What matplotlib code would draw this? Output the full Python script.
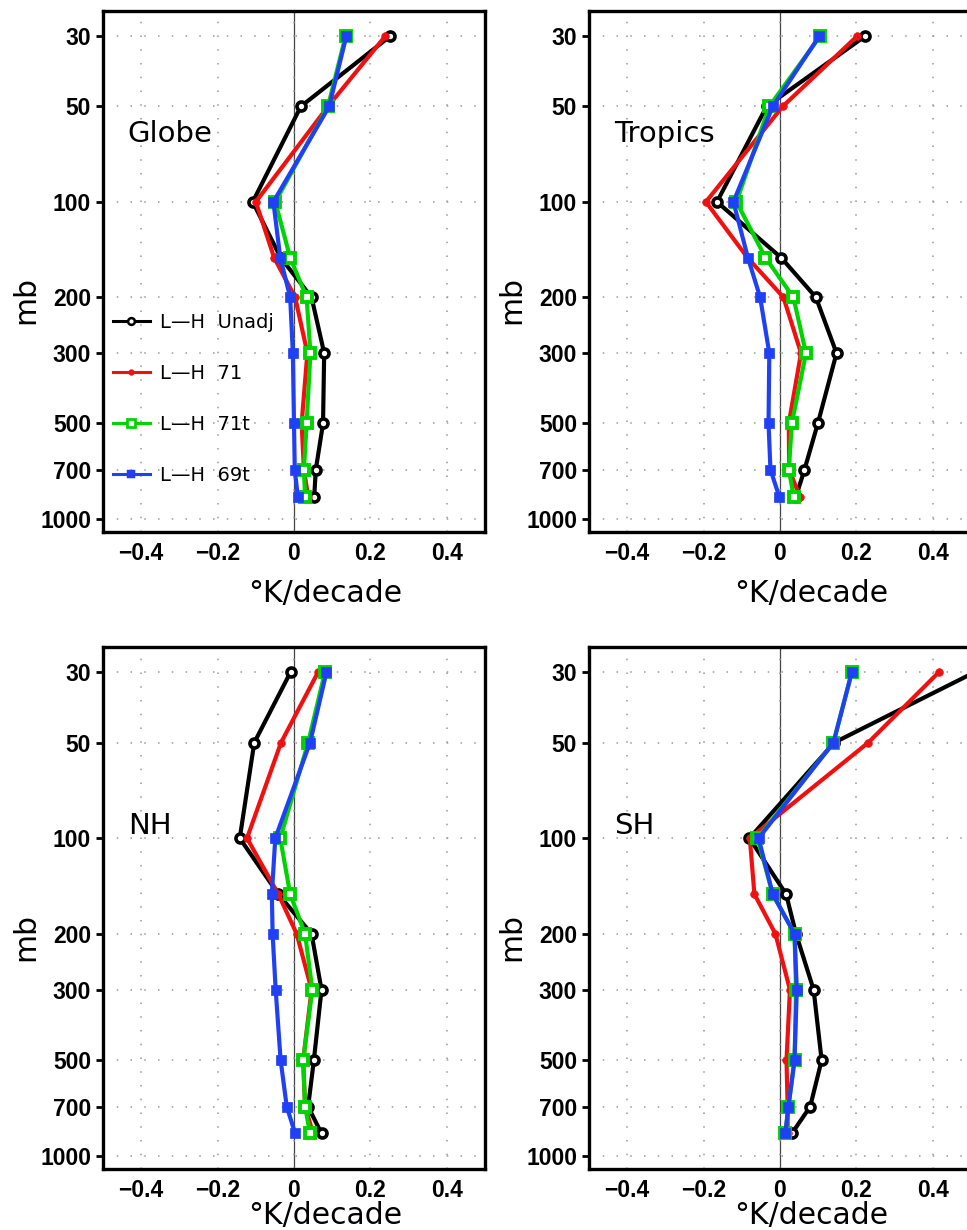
import matplotlib
matplotlib.use("Agg")
import matplotlib.pyplot as plt
from matplotlib.lines import Line2D
from matplotlib.ticker import FixedLocator, NullLocator

# Pressure levels (mb)
pressure = [30, 50, 100, 150, 200, 300, 500, 700, 850]

# Temperature trends (K/decade) per region and dataset
globe_unadj = [0.252, 0.018, -0.108, -0.035, 0.046, 0.079, 0.076, 0.057, 0.053]
globe_71 = [0.239, 0.089, -0.100, -0.052, 0.003, 0.035, 0.020, 0.026, 0.037]
globe_71t = [0.135, 0.089, -0.049, -0.010, 0.033, 0.043, 0.033, 0.026, 0.029]
globe_69t = [0.137, 0.092, -0.054, -0.036, -0.010, -0.003, 0.000, 0.002, 0.010]

trop_unadj = [0.223, -0.035, -0.165, 0.003, 0.094, 0.148, 0.099, 0.064, 0.042]
trop_71 = [0.202, 0.007, -0.194, -0.085, 0.009, 0.055, 0.023, 0.024, 0.052]
trop_71t = [0.105, -0.028, -0.114, -0.038, 0.035, 0.068, 0.031, 0.023, 0.036]
trop_69t = [0.103, -0.019, -0.122, -0.084, -0.052, -0.028, -0.030, -0.025, -0.002]

nh_unadj = [-0.009, -0.104, -0.142, -0.041, 0.046, 0.072, 0.052, 0.037, 0.072]
nh_71 = [0.063, -0.034, -0.123, -0.041, 0.007, 0.046, 0.024, 0.029, 0.050]
nh_71t = [0.081, 0.037, -0.036, -0.010, 0.029, 0.048, 0.024, 0.029, 0.042]
nh_69t = [0.085, 0.042, -0.049, -0.058, -0.056, -0.048, -0.035, -0.019, 0.003]

sh_unadj = [0.510, 0.142, -0.080, 0.016, 0.042, 0.088, 0.109, 0.079, 0.031]
sh_71 = [0.416, 0.231, -0.079, -0.067, -0.012, 0.026, 0.017, 0.020, 0.020]
sh_71t = [0.188, 0.140, -0.059, -0.019, 0.038, 0.042, 0.038, 0.022, 0.014]
sh_69t = [0.188, 0.140, -0.056, -0.019, 0.038, 0.044, 0.038, 0.022, 0.014]

region_names = ["Globe", "Tropics", "NH", "SH"]
series_labels = ["L\u2014H  Unadj", "L\u2014H  71", "L\u2014H  71t", "L\u2014H  69t"]

x_ticks = [-0.4, -0.2, 0, 0.2, 0.4]
x_ticklabels = ["\u22120.4", "\u22120.2", "0", "0.2", "0.4"]
y_ticks = [30, 50, 100, 200, 300, 500, 700, 1000]
y_ticklabels = ["30", "50", "100", "200", "300", "500", "700", "1000"]

regions = [
    [globe_unadj, globe_71, globe_71t, globe_69t],
    [trop_unadj, trop_71, trop_71t, trop_69t],
    [nh_unadj, nh_71, nh_71t, nh_69t],
    [sh_unadj, sh_71, sh_71t, sh_69t],
]

RED = "#f01010"
GREEN = "#00d400"
BLUE = "#2040f5"

styles = [
    dict(color="black", marker="o", ms=6.5, mfc="white", mec="black", mew=2.6),
    dict(color=RED, marker="o", ms=5.5, mfc=RED, mec=RED, mew=0.5),
    dict(color=GREEN, marker="s", ms=7.0, mfc="white", mec=GREEN, mew=2.8),
    dict(color=BLUE, marker="s", ms=7.5, mfc=BLUE, mec=BLUE, mew=0.5),
]

TICK_FONT = dict(family="Liberation Sans", weight="bold", size=16.5)
LABEL_FONT = dict(family="DejaVu Sans", size=21.5)

fig = plt.figure(figsize=(9.67, 12.3), dpi=100)

w = 382 / 967
positions = [
    (103 / 967, (1230 - 532) / 1230, w, 521 / 1230),
    (589 / 967, (1230 - 532) / 1230, w, 521 / 1230),
    (103 / 967, (1230 - 1169) / 1230, w, 522 / 1230),
    (589 / 967, (1230 - 1169) / 1230, w, 522 / 1230),
]

for idx, (pos, name, data) in enumerate(zip(positions, region_names, regions)):
    ax = fig.add_axes(pos)
    ax.set_yscale("log")
    ax.set_xlim(-0.5, 0.5)
    ax.set_ylim(1100, 25)

    ax.yaxis.set_major_locator(FixedLocator(y_ticks))
    ax.yaxis.set_minor_locator(NullLocator())
    ax.set_yticklabels(y_ticklabels, fontdict=TICK_FONT)
    ax.xaxis.set_major_locator(FixedLocator(x_ticks))
    ax.set_xticklabels(x_ticklabels, fontdict=TICK_FONT)

    ax.tick_params(axis="y", direction="out", length=5, width=2, pad=3.5)
    ax.tick_params(axis="x", length=0, pad=7)

    for s in ax.spines.values():
        s.set_linewidth(2.4)

    ax.grid(True, which="major", color="#9a9a9a", linestyle=(0, (1, 8)), linewidth=1.1)
    ax.axvline(0, color="#444444", linewidth=0.9, zorder=1.5)

    for values, st in zip(data, styles):
        ax.plot(values, pressure, linewidth=3.0, zorder=3, **st)

    ax.set_ylabel("mb", **LABEL_FONT)
    ax.yaxis.set_label_coords(-0.165, 0.445)
    ax.set_xlabel("\u00b0K/decade", **LABEL_FONT)
    if idx < 2:
        ax.xaxis.set_label_coords(0.581, -0.091)
    else:
        ax.xaxis.set_label_coords(0.581, -0.062)

    ax.text(0.065, 0.749 if idx < 2 else 0.642, name, transform=ax.transAxes,
            ha="left", va="baseline", family="DejaVu Sans", size=21)

    if idx == 0:
        handles = [Line2D([], [], linewidth=2.2, **{**st, "ms": st["ms"] * 0.75,
                                                     "mew": st["mew"] * 0.7})
                   for st in styles]
        ax.legend(handles, series_labels, loc="upper left",
                  bbox_to_anchor=(0.026, 0.42), frameon=False,
                  prop=dict(family="DejaVu Sans", size=14),
                  handlelength=1.9, handletextpad=0.5,
                  labelspacing=1.64, borderaxespad=0.0, borderpad=0.0)

fig.savefig("out.png", dpi=100)
